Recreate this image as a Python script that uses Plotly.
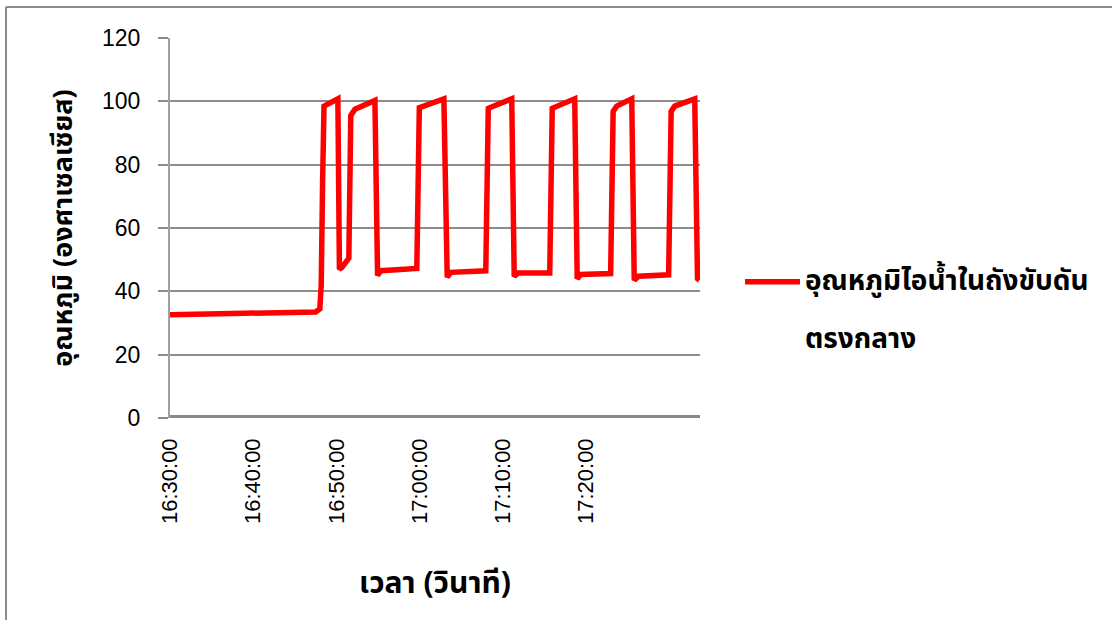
import plotly.graph_objects as go

DAY = "2024-01-01 "
times = [
    "16:30:00", "16:40:00", "16:47:30", "16:48:00", "16:48:10", "16:48:20", "16:48:30",
    "16:50:10", "16:50:21", "16:50:39", "16:51:29", "16:51:43", "16:52:13", "16:54:37",
    "16:54:56", "16:55:20", "16:59:39", "16:59:57", "17:02:54", "17:03:18", "17:03:44",
    "17:07:56", "17:08:14", "17:11:03", "17:11:21", "17:11:47", "17:15:37", "17:15:55",
    "17:18:37", "17:18:55", "17:19:20", "17:22:56", "17:23:14", "17:23:40", "17:25:28",
    "17:25:46", "17:26:18", "17:29:54", "17:30:12", "17:30:38", "17:33:02", "17:33:22",
    "17:33:36",
]
temps = [
    32.6, 33.0, 33.5, 34.5, 42.0, 75.0, 98.5,
    100.8, 47.0, 47.5, 50.5, 95.5, 97.5, 100.3,
    45.0, 46.5, 47.2, 98.0, 100.8, 44.5, 46.0,
    46.5, 97.8, 100.8, 44.7, 45.8, 45.8, 97.8,
    100.8, 44.0, 45.3, 45.6, 96.8, 98.5, 100.8,
    43.5, 44.8, 45.2, 96.8, 98.5, 100.8, 44.0,
    43.5,
]
legend_line1 = "อุณหภูมิไอน้ำในถังขับดัน"
legend_line2 = "ตรงกลาง"
y_title = "อุณหภูมิ (องศาเซลเซียส)"
x_title = "เวลา (วินาที)"
y_ticks = [0, 20, 40, 60, 80, 100, 120]
x_tick_labels = ["16:30:00", "16:40:00", "16:50:00", "17:00:00", "17:10:00", "17:20:00"]

FONT = "Noto Sans Thai, Tahoma, Noto Sans, sans-serif"
NUMFONT = "Liberation Sans, Arial, sans-serif"

span = "<span style='font-size:28px'><b>{}</b></span>"
series_name = span.format(legend_line1) + "<br><br>" + span.format(legend_line2)

x_vals = [DAY + t for t in times]

fig = go.Figure()
fig.add_trace(go.Scatter(
    x=x_vals, y=temps, mode="lines", name=series_name,
    line=dict(color="#FF0000", width=5.5),
    showlegend=True,
))

L, R, T, B = 170, 412, 38, 202
W, H = 1112, 620
pw, ph = W - L - R, H - T - B

def px_x(p):
    return (p - L) / pw

def px_y(p):
    return (H - B - p) / ph

fig.update_layout(
    width=W, height=H,
    margin=dict(l=L, r=R, t=T, b=B),
    paper_bgcolor="white", plot_bgcolor="white",
    font=dict(family=FONT, color="black"),
    showlegend=True,
    legend=dict(
        x=px_x(740), y=px_y(261), xanchor="left", yanchor="top",
        font=dict(size=22, family=FONT, color="black"),
        valign="top", bgcolor="rgba(0,0,0,0)", itemwidth=55,
    ),
    xaxis=dict(
        type="date",
        range=[DAY + "16:30:00", DAY + "17:33:40"],
        tickvals=[DAY + t for t in x_tick_labels],
        ticktext=x_tick_labels,
        tickangle=-90,
        tickfont=dict(size=22, family=NUMFONT),
        ticklabelstandoff=15,
        showgrid=False, zeroline=False, showline=False,
        ticks="", title=dict(text="<b>" + x_title + "</b>", font=dict(size=30), standoff=48),
    ),
    yaxis=dict(
        range=[0, 120], tickvals=y_ticks,
        tickfont=dict(size=23, family=NUMFONT),
        ticklabelstandoff=13,
        showgrid=True, gridcolor="#8c8c8c", gridwidth=2,
        showline=True, linecolor="#a0a0a0", linewidth=2,
        ticks="outside", ticklen=10, tickcolor="#8c8c8c", tickwidth=2,
        zeroline=False,
        title=dict(text="<b>" + y_title + "</b>", font=dict(size=27), standoff=22),
    ),
    shapes=[
        dict(type="line", xref="paper", yref="y", x0=0, x1=1, y0=0, y1=0,
             line=dict(color="#888888", width=6), layer="below"),
        dict(type="line", xref="paper", yref="paper", x0=px_x(6), x1=px_x(1120),
             y0=px_y(7), y1=px_y(7), line=dict(color="#8c8c8c", width=2)),
        dict(type="line", xref="paper", yref="paper", x0=px_x(6), x1=px_x(6),
             y0=px_y(7), y1=px_y(630), line=dict(color="#8c8c8c", width=2)),
    ],
)

fig.write_html("out.html")
